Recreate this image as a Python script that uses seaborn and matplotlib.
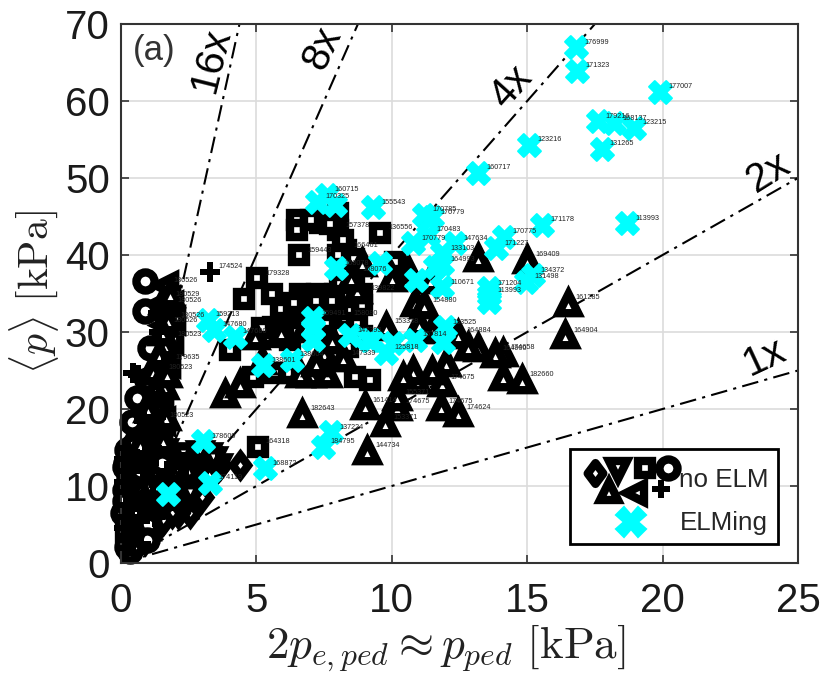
import numpy as np
import matplotlib
matplotlib.use("Agg")
import matplotlib.pyplot as plt
from matplotlib.lines import Line2D
from matplotlib.markers import MarkerStyle
from matplotlib.legend_handler import HandlerBase
from matplotlib.path import Path
import seaborn as sns

# --- data: (pedestal pressure, volume averaged pressure), shot labels ("" = no visible label)
up_x = [13.2,15.0,16.5,16.4,14.8,14.1,14.1,13.8,13.2,12.45,12.45,11.8,12.0,11.85,11.5,11.5,10.9,10.8,10.4,10.2,9.75,
        9.8,10.85,11.2,10.6,11.4,10.2,3.85,4.4,4.95,6.7,9.1,9.0,8.2,7.5,7.0,7.6,6.6,5.2,1.33,1.33,1.63,1.37,
        5.9,6.8,7.2,7.8,8.7,10.0,11.0,12.8,8.5,8.9,
        1.6,1.4,1.65,1.75,1.5,1.55,1.8,1.2,1.0,1.25,1.1,0.7,1.55,1.7]
up_y = [39.6,39.4,33.8,29.6,23.8,24.2,27.3,27.2,27.9,29.6,19.5,20.3,26.0,23.4,25.0,30.2,23.8,25.0,24.2,20.3,18.2,
        30.7,33.8,33.5,38.0,36.8,21.5,22.0,23.3,29.5,19.4,14.6,20.4,26.6,27.3,24.6,24.6,24.6,26.2,20.9,17.3,28.3,26.0,
        30.0,30.5,26.0,29.0,35.5,37.0,31.0,28.0,37.0,39.0,
        23.0,27.0,19.0,31.5,30.0,34.0,35.0,25.0,20.0,22.5,17.0,15.5,16.0,24.5]
up_lab = ["","169409","161285","164904","182660","","174658","164900","","164884","174624","174675","","174675","","","","",
          "","174675","153371","153338","","154880","","","155371","","","","182643","144734","161414","147339","","","","","",
          "","","","","","","","","","","","","","",
          "","","","","","","","","","","","","",""]

dn_x = [1.65,2.0,2.55,2.2,2.75,3.2,3.6,2.9,2.3,3.4,2.0,1.6,2.9]
dn_y = [12.2,9.0,9.0,13.0,12.8,14.0,12.6,12.0,14.0,13.5,11.5,14.5,14.3]

left_x = [1.63,1.8,1.63,1.8,1.45,1.7,1.45,1.5,1.9,1.7,1.4,1.2,1.0,1.3]
left_y = [36.1,33.5,30.9,29.0,24.8,34.2,21.8,18.5,31.5,26.0,15.0,9.0,5.0,12.0]
left_lab = ["180526","180526","180526","180523","180523","180529","","180523","180526","179635","","","",""]

dia_x = [4.4,3.65,3.0,2.55,2.1,3.0,2.45,1.9,1.55,1.25,0.9,1.07,2.3,2.9,3.3,3.6]
dia_y = [12.7,12.7,13.0,6.5,6.5,8.6,8.2,6.5,5.6,4.3,3.0,8.2,10.4,11.2,11.5,12.5]

sq_x = [5.05,4.03,4.55,5.03,6.58,6.5,6.5,7.36,8.0,8.0,8.3,9.58,5.58,6.62,7.25,7.9,8.9,8.2,7.84,8.28,5.62,6.36,7.1,5.5,6.25,
        8.65,9.2,6.18,5.7,4.88,10.13,8.6,7.6,0.3,0.55,0.8,1.1,1.6,0.2,0.35,1.3,0.7,6.9,8.4,
        6.9,7.5,8.5,8.9,6.2,7.4,8.7,8.9,8.1,8.4,8.6,7.0,7.7,8.2,8.0,5.2,6.0,6.8,
        6.6,7.2,7.8,8.4,6.5,7.0,5.9,6.4,8.1]
sq_y = [15.1,27.7,34.3,37.0,40.0,44.5,43.2,44.2,45.5,43.2,40.6,42.9,35.0,35.0,35.0,35.0,35.0,34.2,32.5,31.8,30.6,31.2,31.2,29.4,29.0,
        24.2,23.8,24.7,24.7,24.2,39.1,37.5,31.0,2.3,5.5,10.8,12.0,14.0,3.9,7.5,9.0,11.5,30.0,28.0,
        33.5,33.0,33.0,33.5,32.5,29.5,31.0,29.5,36.5,38.0,39.5,44.5,44.0,42.0,40.0,30.5,30.5,32.0,
        34.0,34.0,34.0,34.5,30.0,31.8,33.0,33.8,30.0]
sq_lab = ["164318","","","179328","159443","","","","","157378","166461","136556","","","","","139822","","","158080",
          "","","","","","","","","","","","168076","","","","","","","","","","","","",
          "","","","","","","","","","","","","","","","","","",
          "","","","","","","","",""]

circ_x = [0.89,0.89,1.07,0.96,0.59,0.41,0.22,0.15,0.15,0.07,0.22,0.44,0.81,0.81,0.7,0.26,1.07,0.52,0.6,0.3,
          0.35,0.5,0.3,0.55,0.15,0.45,0.6,0.85,0.3,0.5,0.2,0.7,0.9,0.45,1.2,1.35,1.0,1.3,0.95,0.4,1.5]
circ_y = [36.6,32.7,27.9,23.8,21.4,18.3,14.7,12.5,9.5,6.5,2.1,13.4,10.8,6.5,3.9,4.3,8.2,8.2,16.0,11.0,
          1.5,2.5,5.5,5.0,8.0,6.5,9.0,9.5,10.5,11.5,13.0,12.0,14.0,15.2,10.0,7.5,5.0,11.5,3.0,4.0,13.0]

plus_x = [3.29,0.63,0.44,1.15,0.26,0.18,1.0,
          0.5,0.7,0.4,0.2,0.6,0.95,0.45,0.8,0.3,1.2,0.25,1.05,1.4,1.5,1.7,2.0,0.6,1.7,2.4,3.0,3.6,
          0.1,0.35,0.75,0.1,0.55,0.9,1.25,0.1,0.45,0.8,1.15,0.12,0.35,0.7,0.2,0.5,0.25,1.5,1.9,2.2,
          1.55,1.3,1.05,0.85,1.15,1.4,1.6,1.35]
plus_y = [37.8,24.4,24.7,15.0,3.0,1.9,12.0,
          4.0,5.5,7.0,7.5,8.0,7.3,10.0,12.0,12.0,8.8,15.0,13.0,6.5,10.0,12.0,14.0,13.5,9.0,12.5,12.5,13.0,
          4.5,6.0,2.5,10.5,12.8,10.8,6.0,13.5,9.0,8.2,11.0,12.0,3.5,4.2,6.0,13.8,9.2,7.8,8.0,11.0,
          20.5,19.0,16.5,18.5,22.0,30.0,26.0,32.5]
plus_lab = ["174524"] + [""] * 55

elm_x = [16.8,16.85,19.9,17.6,18.2,18.95,15.07,17.75,13.2,15.55,18.7,14.15,13.85,9.3,11.2,11.5,11.35,10.8,11.85,12.35,11.85,
         13.6,13.6,13.6,15.2,14.95,11.85,10.9,11.6,9.55,11.95,11.9,10.85,10.05,9.8,9.25,7.6,7.25,7.95,
         3.2,3.45,4.2,5.25,6.3,3.03,3.3,5.3,7.75,7.45,8.45,9.15,7.1,7.1,7.1,1.75,7.9]
elm_y = [67.0,63.9,61.2,57.4,57.1,56.5,54.3,53.8,50.7,43.9,44.1,42.4,40.9,46.2,45.2,44.9,42.6,41.5,40.2,41.5,38.8,
         35.7,34.8,33.9,37.4,36.5,35.8,36.8,38.4,39.0,30.6,28.7,29.0,28.6,27.3,29.0,47.8,46.9,38.3,
         31.6,30.3,29.4,25.7,26.4,15.8,10.4,12.3,17.0,15.1,29.6,29.0,31.8,30.5,29.0,9.0,46.5]
elm_lab = ["176999","171323","177007","179216","168137","123215","123216","131265","160717","171178","113993","170775","171227",
           "155543","170785","170779","170483","170779","133103","147634","164993","171204","113993","","134372","131498","110671","",
           "","","133525","","157814","","125818","","160715","170325","168078","159213","147680","147680","138601","138604","178609",
           "174119","168872","137224","184795","147395","","159491","","","",""]

ratios = [1, 2, 4, 8, 16]
ratio_labels = ["1x", "2x", "4x", "8x", "16x"]
x_ticks = [0, 5, 10, 15, 20, 25]
y_ticks = [0, 10, 20, 30, 40, 50, 60, 70]
legend_labels = ["no ELM", "ELMing"]

# --- style
sns.set_style("ticks")
plt.rcParams["font.family"] = ["Liberation Sans", "DejaVu Sans"]
plt.rcParams["mathtext.fontset"] = "cm"

fig = plt.figure(figsize=(8.31, 6.77), dpi=100)
ax = fig.add_axes([121/831, (677-563)/677, 677/831, 539/677])

DIAMOND = Path([(0, 1), (0.75, 0), (0, -1), (-0.75, 0), (0, 1)], closed=True)
CYAN = "#00ffff"
EDGE = 6.0

ax.grid(True, color="#dcdcdc", lw=1.2, zorder=0)
ax.set_axisbelow(True)

for r in ratios:
    sns.lineplot(x=[0, 25], y=[0, 25*r], ax=ax, color="black", lw=1.5, estimator=None, sort=False,
                 linestyle=(0, (8, 3, 1.5, 3)), zorder=1, legend=False)

def marks(xs, ys, marker, s, z=2, lw=EDGE):
    sns.scatterplot(x=xs, y=ys, ax=ax, marker=marker, s=s, color="white", edgecolor="black",
                    linewidth=lw, joinstyle="miter", zorder=z, legend=False, clip_on=False)

def tags(xs, ys, labs):
    for x, y, t in zip(xs, ys, labs):
        if t:
            ax.annotate(t, (x, y), xytext=(5.8, 3.6), textcoords="offset points", fontsize=5.2,
                        va="center", ha="left", color="#222222", zorder=5)

marks(dia_x, dia_y, DIAMOND, 215)
marks(dn_x, dn_y, "v", 175)
marks(left_x, left_y, "<", 195)
marks(sq_x, sq_y, "s", 109)
marks(circ_x, circ_y, "o", 170)
marks(up_x, up_y, "^", 195, z=2.5)
sns.scatterplot(x=plus_x, y=plus_y, ax=ax, marker="P", s=190, color="black", linewidth=0, zorder=2.6, legend=False, clip_on=False)
sns.scatterplot(x=elm_x, y=elm_y, ax=ax, marker="X", s=270, color=CYAN, edgecolor=CYAN, linewidth=1.5, zorder=3, legend=False)

tags(up_x, up_y, up_lab)
tags(left_x, left_y, left_lab)
tags(sq_x, sq_y, sq_lab)
tags(plus_x, plus_y, plus_lab)
tags(elm_x, elm_y, elm_lab)

ax.set_xlim(0, 25)
ax.set_ylim(0, 70)
ax.set_xticks(x_ticks)
ax.set_yticks(y_ticks)
ax.tick_params(axis="both", direction="in", length=6, width=1.2, color="#333333", top=True, right=True,
               labelsize=29, labelcolor="#1a1a1a")
ax.tick_params(axis="x", pad=14)
ax.tick_params(axis="y", pad=8)
for sp in ax.spines.values():
    sp.set_visible(True)
    sp.set_color("#333333")
    sp.set_linewidth(1.5)

ax.set_xlabel(r"$2p_{e,ped} \approx p_{ped}\ [\mathrm{kPa}]$", fontsize=32.5, labelpad=1, color="#222222", x=0.48)
ax.set_ylabel(r"$\langle p\rangle\ [\mathrm{kPa}]$", fontsize=30, labelpad=3, color="#222222", y=0.503)

ax.text(0.017, 0.982, "(a)", transform=ax.transAxes, fontsize=25, va="top", color="#333333", zorder=6)

# ratio labels, placed along their lines
for lab, r, px, py, rot in zip(ratio_labels, ratios, [765, 768, 511, 322, 211], [357, 172, 87, 48, 60], [25, 32, 48, 65, 76]):
    ax.text(px/831, 1-py/677, lab, transform=fig.transFigure, fontsize=29, rotation=rot, ha="center", va="center",
            color="black", zorder=6, rotation_mode="anchor")

# --- legend with a cluster of markers as its first handle
class Cluster(HandlerBase):
    def create_artists(self, legend, orig, xd, yd, w, h, fs, trans):
        arts = []
        cx, cy = w/2 - xd, h/2 - yd
        for (m, ms, dx, dy) in orig:
            filled = m == "P"
            a = Line2D([cx+dx], [cy+dy], marker=MarkerStyle(m, joinstyle="miter"), ms=ms,
                       mfc="black" if filled else "white", mec="black",
                       mew=0 if filled else EDGE, ls="none", transform=trans)
            arts.append(a)
        return arts

no_elm = [(DIAMOND, 15.0, -23, 3.5), ("v", 12.5, -6, 5.5), ("^", 13.0, -13, -9.5), ("<", 13.0, 6, -10.5),
          ("s", 10.5, 13, 7.5), ("o", 13.0, 30, 7.5), ("P", 13.0, 25, -7.5)]
elming = [("X", 21.0, 3, -1)]

class Elm(HandlerBase):
    def create_artists(self, legend, orig, xd, yd, w, h, fs, trans):
        return [Line2D([w/2-xd+orig[0][2]], [h/2-yd+orig[0][3]], marker="X", ms=orig[0][1], mfc=CYAN, mec=CYAN,
                       mew=1.5, ls="none", transform=trans)]

class A(tuple): pass
class B(tuple): pass
leg = ax.legend([A(no_elm), B(elming)], legend_labels, handler_map={A: Cluster(), B: Elm()},
                loc="lower right", bbox_to_anchor=(778/831, 1-544/677), bbox_transform=fig.transFigure,
                fontsize=18.7, handlelength=3.7, handletextpad=0.18, labelspacing=0.72,
                borderpad=0.35, borderaxespad=0, frameon=True, fancybox=False, framealpha=1,
                title=" ", title_fontsize=7)
leg._legend_box.sep = 0
leg.get_frame().set_edgecolor("black")
leg.get_frame().set_linewidth(2)
leg.set_zorder(7)

fig.savefig("out.png", dpi=100)
